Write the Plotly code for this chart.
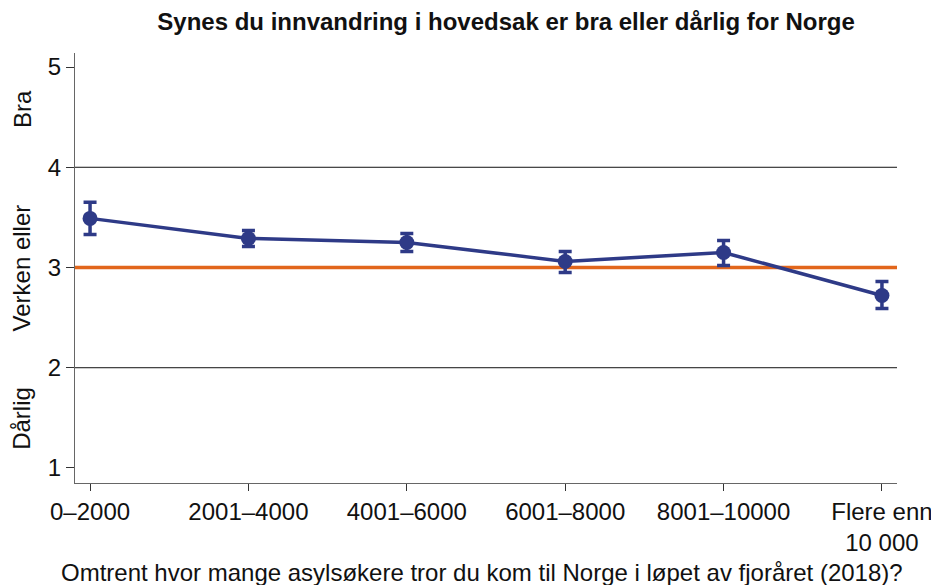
import plotly.graph_objects as go

categories = ["0–2000", "2001–4000", "4001–6000", "6001–8000", "8001–10000", "Flere enn<br>10 000"]
means = [3.49, 3.29, 3.25, 3.06, 3.15, 2.72]
err_plus = [0.16, 0.08, 0.09, 0.10, 0.12, 0.14]
err_minus = [0.16, 0.08, 0.09, 0.11, 0.13, 0.13]

y_ticks = [1, 2, 3, 4, 5]
grid_values = [2, 4]
neutral_value = 3
side_labels = ["Bra", "Verken eller", "Dårlig"]
side_positions = [4.58, 3.0, 1.5]

title_text = "Synes du innvandring i hovedsak er bra eller dårlig for Norge"
x_title = "Omtrent hvor mange asylsøkere tror du kom til Norge i løpet av fjoråret (2018)?"

navy = "#2E3A87"
orange = "#E2661B"
font_family = "Liberation Sans, Arial, sans-serif"

x_idx = list(range(len(categories)))

fig = go.Figure()
fig.add_trace(go.Scatter(
    x=x_idx, y=means, mode="lines+markers",
    line=dict(color=navy, width=3.5),
    marker=dict(color=navy, size=15),
    error_y=dict(type="data", symmetric=False, array=err_plus, arrayminus=err_minus,
                 color=navy, thickness=3.5, width=6.5),
    showlegend=False, hoverinfo="x+y",
))

shapes = []
for g in grid_values:
    shapes.append(dict(type="line", xref="paper", x0=0, x1=1, yref="y", y0=g, y1=g,
                       line=dict(color="#111111", width=1), layer="below"))
shapes.append(dict(type="line", xref="paper", x0=0, x1=1, yref="y", y0=neutral_value, y1=neutral_value,
                   line=dict(color=orange, width=3.5), layer="below"))

annotations = []
for lab, pos in zip(side_labels, side_positions):
    annotations.append(dict(text=lab, xref="paper", yref="y", x=-0.0645, y=pos,
                            textangle=-90, showarrow=False, xanchor="center", yanchor="middle",
                            font=dict(size=24, color="#111111", family=font_family)))
annotations.append(dict(text=x_title, xref="paper", yref="paper", x=0.495, y=-0.207,
                        showarrow=False, xanchor="center", yanchor="middle",
                        font=dict(size=24, color="#111111", family=font_family)))

fig.update_layout(
    width=931, height=577,
    margin=dict(l=67, r=42, t=45, b=102, autoexpand=False),
    paper_bgcolor="white", plot_bgcolor="white",
    font=dict(family=font_family, color="#111111"),
    title=dict(text="<b>" + title_text + "</b>", x=0.535, xanchor="center",
               y=1 - 14 / 577, yanchor="middle", font=dict(size=24, color="#111111", family=font_family)),
    shapes=shapes, annotations=annotations,
    xaxis=dict(range=[-0.095, 5.095], tickvals=x_idx, ticktext=categories,
               automargin=False, ticklabeloverflow="allow",
               showgrid=False, zeroline=False, showline=True, linecolor="#666666", linewidth=1,
               ticks="outside", ticklen=7, tickcolor="#333333", tickwidth=1,
               tickfont=dict(size=24, color="#111111", family=font_family)),
    yaxis=dict(range=[0.85, 5.14], tickvals=y_ticks, automargin=False,
               showgrid=False, zeroline=False, showline=True, linecolor="#666666", linewidth=1,
               ticks="outside", ticklen=8, tickcolor="#333333", tickwidth=1,
               tickfont=dict(size=24, color="#111111", family=font_family)),
)

fig.write_html("out.html")
